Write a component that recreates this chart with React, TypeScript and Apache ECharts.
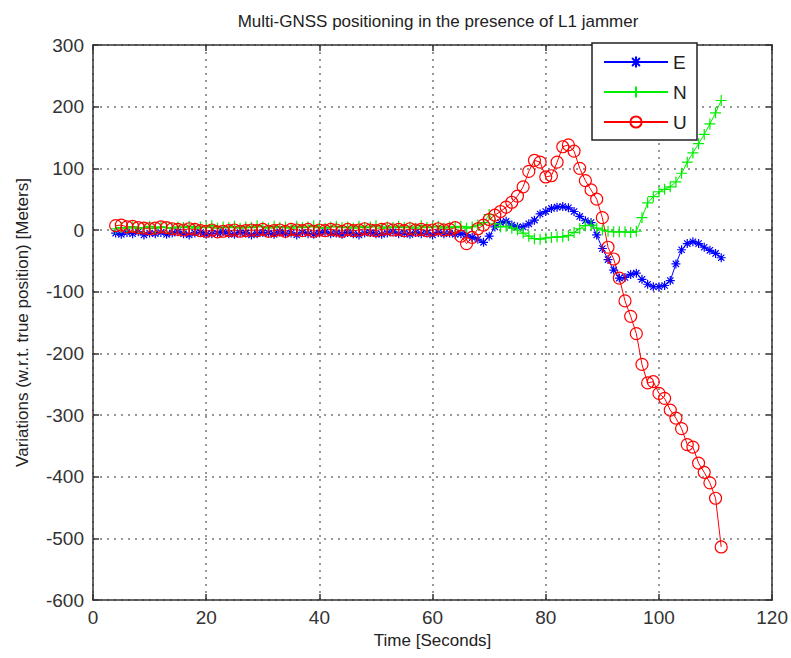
import React, { useEffect, useRef } from "react";
import * as echarts from "echarts";

// Time axis (seconds)
const seconds: number[] = Array.from({ length: 108 }, (_, i) => 4 + i);

// East error (m), t = 4..111
const eastValues: number[] = [
  -5, -7, -4, -6, -3, -8, -5, -6, -4, -7,
  -5, -3, -6, -8, -5, -4, -7, -6, -5, -3,
  -6, -7, -4, -5, -8, -6, -4, -5, -7, -3,
  -6, -5, -8, -4, -6, -7, -5, -3, -6, -5,
  -7, -4, -6, -8, -5, -4, -6, -7, -5, -3,
  -6, -5, -7, -4, -6, -5, -8, -4, -6, -5,
  -7, -6,
  -8, -12, -15, -20, -10, 5, 12, 14, 8, 5,
  5, 10, 16, 26, 30, 35, 37, 38, 36, 30,
  22, 15, 12, -8, -30, -48, -65, -78, -77, -72,
  -70, -80, -88, -92, -92, -90, -82, -55, -32, -22,
  -19, -22, -28, -33, -38, -45,
];

// North error (m), t = 4..111
const northValues: number[] = [
  2, 4, 3, 5, 2, 4, 6, 3, 5, 4,
  3, 5, 4, 6, 3, 5, 4, 7, 3, 5,
  4, 6, 3, 5, 4, 7, 5, 3, 6, 4,
  5, 3, 6, 4, 5, 7, 4, 3, 5, 6,
  4, 5, 3, 6, 4, 5, 7, 3, 5, 4,
  6, 4, 5, 3, 7, 4, 5, 6, 3, 5,
  4, 6, 3, 5, 8,
  12, 25, 10, 5, 6, 3, 0, -5, -10, -14,
  -15, -13, -12, -11, -11, -9, -4, 2, 7, 8,
  3, 0, -2, -3, -3, -3, -4, -2, 20, 44,
  54, 62, 66, 70, 78, 92, 110, 125, 140, 155,
  172, 190, 210,
];

// Up error (m), t = 4..111
const upValues: number[] = [
  7, 8, 5, 6, 4, 3, 2, 3, 5, 4,
  2, 1, 0, 2, 1, -1, -2, 0, -3, -2,
  -1, 0, -2, -1, 0, -1, 1, -2, -1, 0,
  -2, 1, 0, -1, 1, -2, 0, -1, 1, 0,
  -2, 1, -1, 0, 2, 0, -1, 1, 2, 0,
  1, -1, 2, 0, 1, -1, 0, 2, 0, 1,
  4,
  -10, -22, -12, 2, 8, 17, 24, 30, 37, 45,
  55, 70, 95, 113, 110, 86, 88, 110, 135, 138,
  128, 100, 80, 65, 50, 20, -28, -47, -78, -115,
  -140, -168, -218, -248, -246, -265, -273, -292, -305, -322,
  -348, -352, -378, -393, -410, -435, -514,
];

const seriesNames = ["E", "N", "U"];
const xTicks = { min: 0, max: 120, interval: 20 };
const yTicks = { min: -600, max: 300, interval: 100 };

const FONT = "'Liberation Sans', Arial, sans-serif";
const AXIS_COLOR = "#333";

const STAR = "path://M5,0L5,10M0,5L10,5M1.5,1.5L8.5,8.5M8.5,1.5L1.5,8.5";
const PLUS = "path://M5,0L5,10M0,5L10,5";
const CIRCLE = "path://M10,5A5,5,0,1,1,0,5A5,5,0,1,1,10,5Z";

function pairs(vals: number[]) {
  return seconds.map((t, i) => [t, vals[i]]);
}

export default function App() {
  const ref = useRef<HTMLDivElement>(null);

  useEffect(() => {
    if (!ref.current) return;
    const chart = echarts.init(ref.current, null, { renderer: "svg" });

    const splitLine = {
      show: true,
      lineStyle: { color: "#777", width: 1.5, type: [2, 5] as number[] },
    };
    const axisLine = { show: true, onZero: false, lineStyle: { color: AXIS_COLOR, width: 1.5 } };
    const axisTick = { show: true, inside: true, length: 6, lineStyle: { color: AXIS_COLOR, width: 1.5 } };

    const mk = (name: string, vals: number[], color: string, symbol: string, size: number, fill: string) => ({
      name,
      type: "line",
      data: pairs(vals),
      symbol,
      symbolSize: size,
      showSymbol: true,
      showAllSymbol: true,
      lineStyle: { color, width: 1 },
      itemStyle: { color: fill, borderColor: color, borderWidth: 1.2 },
      emphasis: { disabled: true },
      z: 2,
    });

    chart.setOption({
      animation: false,
      backgroundColor: "#fff",
      textStyle: { fontFamily: FONT },
      title: {
        text: "Multi-GNSS positioning in the presence of L1 jammer",
        left: 433,
        top: 8,
        textAlign: "center",
        textStyle: { fontFamily: FONT, fontSize: 17, fontWeight: "normal", color: "#222" },
      },
      grid: { left: 93, top: 45, right: 17, bottom: 58, show: false },
      legend: {
        data: seriesNames,
        orient: "vertical",
        left: 603,
        top: 52,
        padding: 0,
        itemWidth: 64,
        itemHeight: 14,
        itemGap: 10,
        textStyle: { fontFamily: FONT, fontSize: 19, color: "#222", lineHeight: 20 },
        z: 10,
      },
      graphic: [
        {
          type: "rect",
          z: 8,
          shape: { x: 592, y: 43, width: 105, height: 97 },
          style: { fill: "#fff", stroke: "#222", lineWidth: 1.5 },
        },
      ],
      xAxis: [
        {
          type: "value",
          ...xTicks,
          position: "bottom",
          axisLine,
          axisTick,
          splitLine,
          axisLabel: { color: AXIS_COLOR, fontSize: 19, margin: 8, fontFamily: FONT },
          name: "Time [Seconds]",
          nameLocation: "middle",
          nameGap: 28,
          nameTextStyle: { color: "#222", fontSize: 17, fontFamily: FONT },
        },
        {
          type: "value",
          ...xTicks,
          position: "top",
          axisLine,
          axisTick,
          splitLine: { show: false },
          axisLabel: { show: false },
        },
      ],
      yAxis: [
        {
          type: "value",
          ...yTicks,
          position: "left",
          axisLine,
          axisTick,
          splitLine,
          axisLabel: { color: AXIS_COLOR, fontSize: 19, margin: 9, fontFamily: FONT },
          name: "Variations (w.r.t. true position) [Meters]",
          nameLocation: "middle",
          nameGap: 62,
          nameTextStyle: { color: "#222", fontSize: 17, fontFamily: FONT },
        },
        {
          type: "value",
          ...yTicks,
          position: "right",
          axisLine,
          axisTick,
          splitLine: { show: false },
          axisLabel: { show: false },
        },
      ],
      series: [
        mk("E", eastValues, "#0000ff", STAR, 9, "#0000ff"),
        mk("N", northValues, "#00ee00", PLUS, 11, "#00ee00"),
        mk("U", upValues, "#ff0000", CIRCLE, 12, "rgba(0,0,0,0)"),
      ],
    });

    return () => chart.dispose();
  }, []);

  return (
    <div
      ref={ref}
      style={{ position: "absolute", left: 0, top: 0, width: 791, height: 658 }}
    />
  );
}
